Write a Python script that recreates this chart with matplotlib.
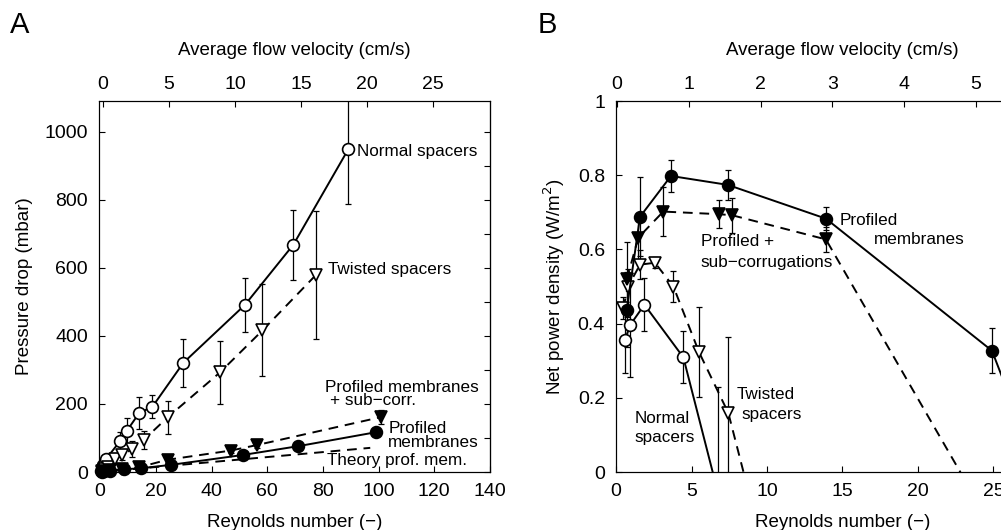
import matplotlib.pyplot as plt
import numpy as np

plt.rcParams['font.family'] = ['Liberation Sans', 'DejaVu Sans']

# ---- Panel A: pressure drop vs Reynolds number ----
a_normal_re = [0.3, 0.7, 1.2, 2.0, 7.2, 9.6, 14.0, 18.8, 29.9, 52.0, 69.4, 89.1]
a_normal_p = [3, 8, 20, 37, 91, 121, 173, 192, 321, 491, 668, 948]
a_normal_err = [2, 3, 5, 8, 27, 37, 48, 33, 71, 79, 103, 160]

a_twist_re = [0.5, 1.5, 3.0, 5.4, 8.0, 11.6, 15.6, 24.3, 43.1, 58.3, 77.5]
a_twist_p = [3, 8, 16, 37, 50, 68, 94, 161, 293, 416, 579]
a_twist_err = [2, 3, 5, 10, 15, 24, 27, 49, 93, 135, 189]

a_prof_re = [0.5, 1.5, 3.5, 8.4, 14.6, 25.4, 51.2, 71.2, 99.1]
a_prof_p = [1, 2, 4, 8, 11, 21, 50, 76, 117]
a_prof_err = [1, 1, 2, 3, 3, 4, 5, 6, 7]

a_sub_re = [0.5, 1.5, 3.5, 8.0, 14.0, 24.2, 46.9, 56.2, 100.7]
a_sub_p = [1, 3, 5, 9, 14, 36, 63, 79, 161]
a_sub_err = [1, 1, 2, 3, 3, 5, 7, 8, 21]

a_theory_re = [0, 97]
a_theory_p = [0, 71]

# ---- Panel B: net power density vs Reynolds number ----
b_normal_re = [0.6, 0.95, 1.88, 4.46, 6.78]
b_normal_w = [0.357, 0.397, 0.451, 0.309, -0.06]
b_normal_err = [0.09, 0.14, 0.072, 0.07, 0.29]

b_twist_re = [0.49, 0.77, 1.59, 2.58, 3.8, 5.5, 7.44, 9.2]
b_twist_w = [0.442, 0.498, 0.559, 0.564, 0.50, 0.323, 0.159, -0.12]
b_twist_err = [0.03, 0.05, 0.04, 0.015, 0.043, 0.122, 0.204, 0.08]

b_prof_re = [0.71, 1.59, 3.64, 7.4, 13.9, 24.9, 28.0]
b_prof_w = [0.438, 0.688, 0.798, 0.774, 0.683, 0.327, 0.0]
b_prof_err = [0.1, 0.106, 0.043, 0.04, 0.03, 0.061, 0.06]

b_sub_re = [0.71, 1.48, 3.13, 6.82, 7.7, 13.9, 25.0]
b_sub_w = [0.519, 0.632, 0.702, 0.695, 0.692, 0.627, -0.155]
b_sub_err = [0.1, 0.06, 0.066, 0.037, 0.047, 0.033, 0.05]

DASH = (5, 3.5)


def series(ax, x, y, err, marker, filled, dashed, clip=True):
    ax.errorbar(x, y, yerr=err, fmt='none', ecolor='black', elinewidth=0.9,
                capsize=2.5, capthick=0.9, zorder=2)
    ls = '--' if dashed else '-'
    line, = ax.plot(x, y, ls=ls, color='black', lw=1.4, marker=marker, ms=8.5,
                    mfc='black' if filled else 'white', mec='black', mew=1.2,
                    zorder=3, clip_on=clip)
    if dashed:
        line.set_dashes(DASH)
    return line


fig = plt.figure(figsize=(10.01, 5.30), dpi=100)

# Panel A
ax = fig.add_axes([0.0989, 0.1094, 0.3906, 0.70])
series(ax, a_normal_re, a_normal_p, a_normal_err, 'o', False, False, clip=False)
series(ax, a_twist_re, a_twist_p, a_twist_err, 'v', False, True, clip=False)
series(ax, a_prof_re, a_prof_p, a_prof_err, 'o', True, False, clip=False)
series(ax, a_sub_re, a_sub_p, a_sub_err, 'v', True, True, clip=False)
th, = ax.plot(a_theory_re, a_theory_p, ls='--', color='black', lw=1.4)
th.set_dashes(DASH)
ax.set_xlim(-0.4, 140)
ax.set_ylim(0, 1090)
ax.set_xticks(np.arange(0, 141, 20))
ax.set_yticks(np.arange(0, 1001, 200))
ax.set_xlabel('Reynolds number (−)', fontsize=13.5, labelpad=10)
ax.set_ylabel('Pressure drop (mbar)', fontsize=13.5, labelpad=8)
ax.tick_params(direction='in', labelsize=14, pad=8, length=4)
sec = ax.secondary_yaxis('right')
sec.set_yticks(np.arange(0, 1001, 100))
sec.tick_params(direction='in', labelright=False, length=4)
top = ax.twiny()
top.set_xlim(-0.3, 29.3)
top.set_xticks(np.arange(0, 26, 5))
top.tick_params(direction='in', labelsize=14, pad=6, length=4)
top.set_xlabel('Average flow velocity (cm/s)', fontsize=13.5, labelpad=15)

fs = 12.3
ax.text(92.3, 941, 'Normal spacers', fontsize=fs, va='center')
ax.text(82, 594, 'Twisted spacers', fontsize=fs, va='center')
ax.text(80.8, 248, 'Profiled membranes', fontsize=fs, va='center')
ax.text(82.6, 209, '+ sub−corr.', fontsize=fs, va='center')
ax.text(103.5, 129, 'Profiled', fontsize=fs, va='center')
ax.text(103.5, 88, 'membranes', fontsize=fs, va='center')
ax.text(81.3, 35, 'Theory prof. mem.', fontsize=fs, va='center')
fig.text(0.010, 0.952, 'A', fontsize=21, va='center')

# Panel B
bx = fig.add_axes([0.6154, 0.1094, 0.4525, 0.70])
series(bx, b_normal_re, b_normal_w, b_normal_err, 'o', False, False)
series(bx, b_twist_re, b_twist_w, b_twist_err, 'v', False, True)
series(bx, b_prof_re, b_prof_w, b_prof_err, 'o', True, False)
series(bx, b_sub_re, b_sub_w, b_sub_err, 'v', True, True)
bx.set_xlim(0, 30)
bx.set_ylim(0, 1)
bx.set_xticks(np.arange(0, 26, 5))
bx.set_yticks([0, 0.2, 0.4, 0.6, 0.8, 1])
bx.set_yticklabels(['0', '0.2', '0.4', '0.6', '0.8', '1'])
bx.set_xlabel('Reynolds number (−)', fontsize=13.5, labelpad=10)
bx.set_ylabel('Net power density (W/m$^2$)', fontsize=13.5, labelpad=8)
bx.tick_params(direction='in', labelsize=14, pad=8, length=4)
btop = bx.twiny()
btop.set_xlim(-0.014, 6.295)
btop.set_xticks(np.arange(0, 6, 1))
btop.tick_params(direction='in', labelsize=14, pad=6, length=4)
btop.set_xlabel('Average flow velocity (cm/s)', fontsize=13.5, labelpad=15)

bx.text(14.8, 0.678, 'Profiled', fontsize=fs, va='center')
bx.text(17.1, 0.627, 'membranes', fontsize=fs, va='center')
bx.text(5.6, 0.62, 'Profiled +', fontsize=fs, va='center')
bx.text(5.6, 0.564, 'sub−corrugations', fontsize=fs, va='center')
bx.text(8.0, 0.208, 'Twisted', fontsize=fs, va='center')
bx.text(8.3, 0.154, 'spacers', fontsize=fs, va='center')
bx.text(1.21, 0.145, 'Normal', fontsize=fs, va='center')
bx.text(1.21, 0.094, 'spacers', fontsize=fs, va='center')
fig.text(0.537, 0.952, 'B', fontsize=21, va='center')

fig.savefig('out.png', dpi=100)
